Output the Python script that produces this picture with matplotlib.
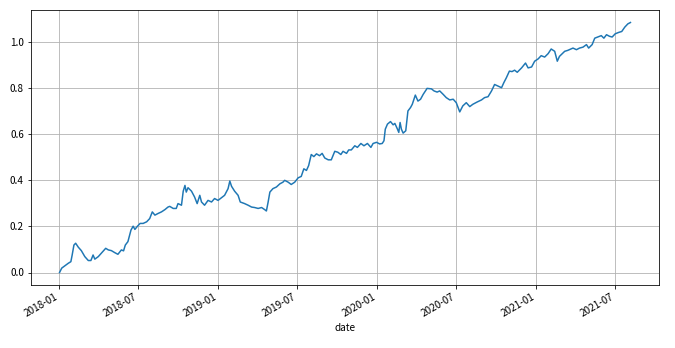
import matplotlib
matplotlib.use("Agg")
import matplotlib.pyplot as plt
import matplotlib.dates as mdates
import pandas as pd

plt.rcParams['font.family'] = ['Noto Sans CJK SC', 'DejaVu Sans']
plt.rcParams['axes.unicode_minus'] = False

dates = [
    "2018-01-02", "2018-01-07", "2018-01-14", "2018-01-22", "2018-01-28", "2018-01-31",
    "2018-02-04", "2018-02-08", "2018-02-14", "2018-02-21", "2018-03-01", "2018-03-09",
    "2018-03-15", "2018-03-20", "2018-03-24", "2018-04-01", "2018-04-08", "2018-04-18",
    "2018-04-24", "2018-05-01", "2018-05-09", "2018-05-16", "2018-05-24", "2018-05-29",
    "2018-06-02", "2018-06-08", "2018-06-15", "2018-06-20", "2018-06-24", "2018-06-30",
    "2018-07-06", "2018-07-13", "2018-07-21", "2018-07-28", "2018-08-03", "2018-08-09",
    "2018-08-16", "2018-08-24", "2018-09-01", "2018-09-08", "2018-09-12", "2018-09-20",
    "2018-09-27", "2018-10-01", "2018-10-09", "2018-10-13", "2018-10-17", "2018-10-20",
    "2018-10-24", "2018-11-01", "2018-11-08", "2018-11-14", "2018-11-20", "2018-11-24",
    "2018-12-01", "2018-12-09", "2018-12-17", "2018-12-24", "2019-01-01", "2019-01-09",
    "2019-01-16", "2019-01-24", "2019-01-28", "2019-02-01", "2019-02-08", "2019-02-16",
    "2019-02-21", "2019-03-03", "2019-03-11", "2019-03-19", "2019-03-26", "2019-04-03",
    "2019-04-11", "2019-04-18", "2019-04-22", "2019-04-26", "2019-04-30", "2019-05-07",
    "2019-05-15", "2019-05-23", "2019-05-30", "2019-06-03", "2019-06-11", "2019-06-18",
    "2019-06-26", "2019-07-04", "2019-07-11", "2019-07-17", "2019-07-23", "2019-07-28",
    "2019-08-03", "2019-08-09", "2019-08-15", "2019-08-22", "2019-08-28", "2019-09-03",
    "2019-09-11", "2019-09-18", "2019-09-26", "2019-10-03", "2019-10-10", "2019-10-15",
    "2019-10-23", "2019-10-28", "2019-11-03", "2019-11-11", "2019-11-17", "2019-11-25",
    "2019-12-02", "2019-12-10", "2019-12-18", "2019-12-23", "2019-12-31", "2020-01-07",
    "2020-01-13", "2020-01-17", "2020-01-20", "2020-01-25", "2020-02-01", "2020-02-07",
    "2020-02-11", "2020-02-17", "2020-02-20", "2020-02-23", "2020-02-26", "2020-03-01",
    "2020-03-07", "2020-03-12", "2020-03-18", "2020-03-22", "2020-03-29", "2020-04-04",
    "2020-04-10", "2020-04-16", "2020-04-25", "2020-05-05", "2020-05-11", "2020-05-18",
    "2020-05-24", "2020-06-01", "2020-06-08", "2020-06-16", "2020-06-24", "2020-07-01",
    "2020-07-09", "2020-07-16", "2020-07-24", "2020-08-01", "2020-08-08", "2020-08-18",
    "2020-08-28", "2020-09-04", "2020-09-12", "2020-09-20", "2020-09-27", "2020-10-05",
    "2020-10-13", "2020-10-18", "2020-10-24", "2020-10-31", "2020-11-06", "2020-11-12",
    "2020-11-18", "2020-11-28", "2020-12-07", "2020-12-13", "2020-12-21", "2020-12-28",
    "2021-01-05", "2021-01-12", "2021-01-20", "2021-01-28", "2021-02-04", "2021-02-12",
    "2021-02-18", "2021-02-23", "2021-03-07", "2021-03-14", "2021-03-26", "2021-04-03",
    "2021-04-10", "2021-04-18", "2021-04-26", "2021-05-01", "2021-05-09", "2021-05-15",
    "2021-05-22", "2021-05-30", "2021-06-05", "2021-06-11", "2021-06-18", "2021-06-24",
    "2021-07-01", "2021-07-09", "2021-07-16", "2021-07-23", "2021-07-30", "2021-08-05",
]

values = [
    0.000, 0.019, 0.029, 0.040, 0.047, 0.076,
    0.119, 0.127, 0.110, 0.095, 0.069, 0.052,
    0.052, 0.076, 0.058, 0.069, 0.084, 0.105,
    0.098, 0.095, 0.086, 0.079, 0.098, 0.094,
    0.119, 0.134, 0.184, 0.201, 0.187, 0.201,
    0.213, 0.213, 0.220, 0.234, 0.263, 0.249,
    0.256, 0.263, 0.273, 0.284, 0.287, 0.278,
    0.278, 0.299, 0.292, 0.353, 0.378, 0.349,
    0.368, 0.353, 0.328, 0.299, 0.335, 0.306,
    0.292, 0.313, 0.306, 0.321, 0.313, 0.325,
    0.335, 0.364, 0.397, 0.374, 0.353, 0.335,
    0.306, 0.299, 0.292, 0.284, 0.282, 0.278,
    0.282, 0.273, 0.267, 0.306, 0.349, 0.364,
    0.371, 0.385, 0.392, 0.400, 0.392, 0.382,
    0.392, 0.411, 0.417, 0.450, 0.443, 0.464,
    0.512, 0.503, 0.515, 0.507, 0.517, 0.497,
    0.489, 0.489, 0.526, 0.522, 0.512, 0.526,
    0.517, 0.532, 0.532, 0.550, 0.543, 0.560,
    0.550, 0.560, 0.543, 0.560, 0.565, 0.558,
    0.560, 0.572, 0.622, 0.644, 0.655, 0.641,
    0.647, 0.622, 0.608, 0.651, 0.622, 0.605,
    0.615, 0.701, 0.716, 0.730, 0.770, 0.744,
    0.752, 0.773, 0.799, 0.797, 0.788, 0.783,
    0.788, 0.773, 0.759, 0.749, 0.752, 0.737,
    0.697, 0.723, 0.737, 0.720, 0.730, 0.740,
    0.749, 0.759, 0.763, 0.788, 0.816, 0.809,
    0.802, 0.823, 0.845, 0.874, 0.872, 0.878,
    0.869, 0.888, 0.909, 0.888, 0.892, 0.917,
    0.927, 0.941, 0.935, 0.950, 0.970, 0.960,
    0.917, 0.938, 0.960, 0.964, 0.974, 0.967,
    0.974, 0.978, 0.989, 0.974, 0.989, 1.017,
    1.022, 1.028, 1.017, 1.032, 1.025, 1.022,
    1.036, 1.042, 1.046, 1.065, 1.079, 1.085,
]

x = pd.to_datetime(dates)

fig = plt.figure(figsize=(675 / 72, 348 / 72), dpi=72)
ax = fig.add_axes([31 / 675, 1 - 285 / 348, (659 - 31) / 675, (285 - 10) / 348])
ax.plot(x, values, color="#1f77b4", linewidth=1.5)
ax.margins(x=0.05, y=0.05)
ax.grid(True, color="#b0b0b0", linewidth=0.8)
ax.xaxis.set_major_locator(mdates.MonthLocator(bymonth=[1, 7]))
ax.xaxis.set_major_formatter(mdates.DateFormatter("%Y-%m"))
for lbl in ax.get_xticklabels():
    lbl.set_rotation(30)
    lbl.set_ha("right")
ax.tick_params(labelsize=10)
ax.set_xlabel("date", fontsize=10)
fig.savefig("out.png", dpi=72)
